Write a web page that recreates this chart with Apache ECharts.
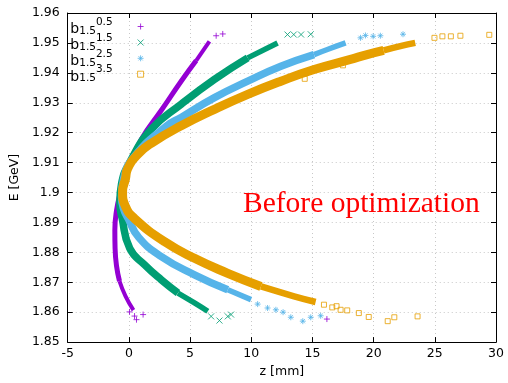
<!DOCTYPE html>
<html><head><meta charset="utf-8">
<script src="https://cdn.jsdelivr.net/npm/echarts@6/dist/echarts.min.js"></script>
<style>html,body{margin:0;padding:0;background:#fff}#c{width:508px;height:383px}</style>
</head><body><div id="c"></div>
<script>
// ---- data: [z (mm), E (GeV)] ----
const xTicks = [-5, 0, 5, 10, 15, 20, 25, 30];
const yTicks = [1.85, 1.86, 1.87, 1.88, 1.89, 1.90, 1.91, 1.92, 1.93, 1.94, 1.95, 1.96];
const seriesNames = ['b05', 'b15', 'b25', 'b35'];
const exponents = ['0.5', '1.5', '2.5', '3.5'];

// dense part of each distribution (thick band), split into lower tail / core / upper tail
const b05LowerTail = [[0.37,1.8607],[-0.28,1.8654],[-0.77,1.8704]];
const b05Core = [[-0.77,1.8704],[-1.01,1.8754],[-1.13,1.8813],[-1.15,1.8873],[-1.01,1.8940],[-0.68,1.9003],[-0.20,1.9072],[1.03,1.9179],[2.65,1.9275],[4.27,1.9372],[5.50,1.9441]];
const b05UpperTail = [[5.50,1.9441],[6.58,1.9505]];

const b15LowerTail = [[6.45,1.8603],[5.36,1.8631],[4.01,1.8664]];
const b15Core = [[4.01,1.8664],[2.65,1.8708],[1.29,1.8758],[0.07,1.8813],[-0.55,1.8913],[-0.74,1.8968],[-0.60,1.9029],[0.07,1.9101],[1.84,1.9212],[4.27,1.9295],[6.99,1.9378],[9.71,1.9450]];
const b15UpperTail = [[9.71,1.9450],[12.15,1.9500]];

const b25LowerTail = [[9.98,1.8642],[8.08,1.8675]];
const b25Core = [[8.08,1.8675],[5.36,1.8725],[2.65,1.8786],[0.80,1.8850],[-0.06,1.8913],[-0.44,1.8946],[-0.60,1.8986],[-0.44,1.9046],[0.50,1.9123],[3.06,1.9222],[4.27,1.9251],[6.99,1.9317],[9.71,1.9372],[12.42,1.9422],[15.13,1.9461]];
const b25UpperTail = [[15.13,1.9461],[16.22,1.9478],[17.71,1.9500]];

const b35LowerTail = [[15.26,1.8634],[13.50,1.8653],[10.79,1.8686]];
const b35Core = [[10.79,1.8686],[8.08,1.8730],[5.36,1.8780],[2.90,1.8836],[0.46,1.8913],[-0.28,1.8953],[-0.52,1.9003],[-0.28,1.9046],[-0.11,1.9079],[0.76,1.9129],[1.84,1.9165],[4.27,1.9223],[6.99,1.9278],[9.71,1.9328],[12.42,1.9372],[15.13,1.9411],[18.11,1.9445],[19.47,1.9461],[20.82,1.9475]];
const b35UpperTail = [[20.82,1.9475],[22.18,1.9489],[23.40,1.9500]];

// sparse individual markers at the tails
const b05Points = [[7.13,1.9524],[7.67,1.9530],[0.05,1.8601],[0.46,1.8587],[0.62,1.8575],[1.16,1.8592],[16.18,1.8577]];
const b15Points = [[12.96,1.9528],[13.47,1.9528],[14.07,1.9528],[14.86,1.9529],[6.72,1.8586],[7.40,1.8572],[8.08,1.8586],[8.35,1.8592]];
const b25Points = [[18.93,1.9517],[19.33,1.9525],[19.96,1.9522],[20.55,1.9524],[22.40,1.9529],[10.52,1.8627],[11.33,1.8614],[12.01,1.8608],[12.60,1.8600],[13.23,1.8583],[14.21,1.8570],[14.86,1.8583],[15.67,1.8588]];
const b35Points = [[24.97,1.9517],[25.62,1.9522],[26.31,1.9522],[27.09,1.9524],[29.45,1.9527],[14.37,1.9380],[17.49,1.9425],[15.94,1.8625],[16.62,1.8616],[16.97,1.8620],[17.30,1.8608],[17.84,1.8606],[18.79,1.8597],[19.60,1.8584],[21.15,1.8570],[21.69,1.8583],[23.59,1.8586]];

const cores = [b05Core, b15Core, b25Core, b35Core];
const tails = [[b05LowerTail, b05UpperTail], [b15LowerTail, b15UpperTail], [b25LowerTail, b25UpperTail], [b35LowerTail, b35UpperTail]];
const points = [b05Points, b15Points, b25Points, b35Points];
const colors = ['#9400d3', '#009e73', '#56b4e9', '#e69f00'];
const coreWidths = [5, 7.5, 7.5, 9];
const tailWidths = [4, 5.5, 5.5, 6.5];
const symbols = [
  'path://M5,0L5,10M0,5L10,5',
  'path://M0,0L10,10M10,0L0,10',
  'path://M5,0L5,10M0,5L10,5M1.5,1.5L8.5,8.5M8.5,1.5L1.5,8.5',
  'rect'
];

const FONT = 'DejaVu Sans';
const chart = echarts.init(document.getElementById('c'), null, {renderer: 'canvas'});

const series = [];
for (let i = 0; i < 4; i++) {
  const base = {type: 'line', smooth: 0.5, showSymbol: false, symbol: 'none', silent: true, animation: false, z: 2 + i * 2};
  tails[i].forEach((t, j) => {
    series.push(Object.assign({}, base, {name: seriesNames[i] + '_tail' + j, data: t, lineStyle: {color: colors[i], width: tailWidths[i]}}));
  });
  series.push(Object.assign({}, base, {name: seriesNames[i] + '_core', data: cores[i], lineStyle: {color: colors[i], width: coreWidths[i]}}));
  series.push({
    type: 'scatter', name: seriesNames[i], data: points[i],
    symbol: symbols[i], symbolSize: i === 3 ? 5 : 6,
    itemStyle: {color: 'rgba(0,0,0,0)', borderColor: colors[i], borderWidth: 1},
    z: 3 + i * 2, animation: false
  });
}

const legendTops = [16.5, 32.5, 48.3, 64.2];
const legends = seriesNames.map((n, i) => ({
  data: [{name: n, icon: symbols[i], itemStyle: {color: 'rgba(0,0,0,0)', borderColor: colors[i], borderWidth: 1}}],
  left: 70, top: legendTops[i], padding: 0, align: 'right',
  itemWidth: 6, itemHeight: 6, selectedMode: false,
  formatter: () => '{s| }{b|b}{sub|1.5}{sup|' + exponents[i] + '}{g| }',
  textStyle: {
    fontFamily: FONT, color: '#000',
    rich: {
      s: {fontSize: 1, lineHeight: 20},
      b: {fontSize: 14, fontFamily: FONT, lineHeight: 18.7, verticalAlign: 'bottom', color: '#000'},
      sub: {fontSize: 10.5, fontFamily: FONT, lineHeight: 11.3, verticalAlign: 'bottom', color: '#000'},
      sup: {fontSize: 10.5, fontFamily: FONT, lineHeight: 11.1, verticalAlign: 'top', color: '#000'},
      g: {fontSize: 1, width: 20, lineHeight: 1}
    }
  }
}));

const axisCommon = {
  axisLine: {show: true, onZero: false, lineStyle: {color: '#000', width: 1}},
  axisTick: {show: true, inside: true, length: 5, lineStyle: {color: '#000'}}
};

chart.setOption({
  animation: false,
  backgroundColor: '#fff',
  grid: {left: 66, right: 12, top: 13, bottom: 38},
  legend: legends,
  xAxis: [
    Object.assign({}, axisCommon, {
      type: 'value', min: xTicks[0], max: xTicks[xTicks.length - 1], interval: 5,
      name: 'z [mm]', nameLocation: 'middle', nameGap: 22,
      nameTextStyle: {fontFamily: FONT, fontSize: 12.5, color: '#000'},
      axisLabel: {fontFamily: FONT, fontSize: 12.5, color: '#000', margin: 5},
      splitLine: {show: true, lineStyle: {color: '#c8c8c8', type: [1, 3], width: 1}}
    }),
    Object.assign({}, axisCommon, {
      type: 'value', position: 'top', min: xTicks[0], max: xTicks[xTicks.length - 1], interval: 5,
      axisLabel: {show: false}, splitLine: {show: false}
    })
  ],
  yAxis: [
    Object.assign({}, axisCommon, {
      type: 'value', min: yTicks[0], max: yTicks[yTicks.length - 1], interval: 0.01,
      name: 'E [GeV]', nameLocation: 'middle', nameGap: 40,
      nameTextStyle: {fontFamily: FONT, fontSize: 12.5, color: '#000'},
      axisLabel: {fontFamily: FONT, fontSize: 12.5, color: '#000', margin: 8,
        formatter: v => String(Math.round(v * 100) / 100)},
      splitLine: {show: true, lineStyle: {color: '#c8c8c8', type: [1, 3], width: 1}}
    }),
    Object.assign({}, axisCommon, {
      type: 'value', position: 'right', min: yTicks[0], max: yTicks[yTicks.length - 1], interval: 0.01,
      axisLabel: {show: false}, splitLine: {show: false}
    })
  ],
  graphic: [{
    type: 'text', x: 243, y: 204, z: 100,
    style: {text: 'Before optimization', font: '29.5px "Liberation Serif"', fill: '#ff0000', verticalAlign: 'middle', align: 'left'}
  }],
  series: series
});
</script></body></html>
